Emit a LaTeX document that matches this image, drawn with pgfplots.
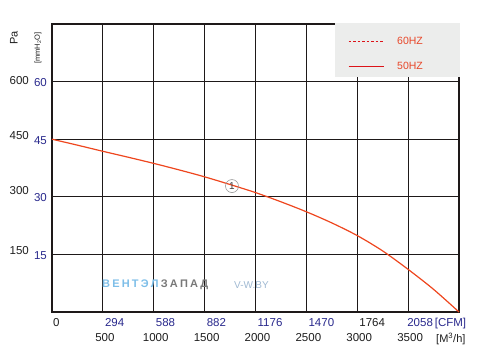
\documentclass[border=0pt]{standalone}
\usepackage{pgfplots}
\pgfplotsset{compat=1.18}
\usepackage{fontspec}
\setmainfont{Liberation Sans}
\definecolor{curvered}{RGB}{238,70,30}
\definecolor{tickblue}{RGB}{40,40,140}
\definecolor{leggray}{RGB}{236,237,236}
\definecolor{legred}{RGB}{232,70,40}
\definecolor{legline}{RGB}{220,20,25}
\definecolor{wmblue}{RGB}{125,190,232}
\definecolor{wmgray}{RGB}{120,120,120}
\definecolor{wmlight}{RGB}{160,185,210}
\definecolor{gridc}{RGB}{30,25,25}
\definecolor{labc}{RGB}{30,30,30}
\tikzset{cfm/.style={anchor=north west, inner sep=0pt, text=tickblue, font=\fontsize{11.5}{12}\selectfont},
         pal/.style={anchor=east, inner sep=0pt, text=labc, font=\fontsize{11.5}{12}\selectfont}}
\begin{document}
\begin{tikzpicture}
\useasboundingbox (-52pt,-37pt) rectangle (436pt,312pt);
\begin{axis}[
  at={(0pt,0pt)}, anchor=south west,
  scale only axis, width=407pt, height=288pt,
  xmin=0, xmax=4000, ymin=0, ymax=75,
  xtick={0,500,...,4000},
  xticklabels={,500,1000,1500,2000,2500,3000,3500,},
  ytick={0,15,...,75},
  yticklabels={,15,30,45,60,},
  grid=major,
  major grid style={gridc, line width=1.2pt},
  axis line style={gridc, line width=1.2pt},
  tick style={draw=none},
  tick label style={font=\fontsize{11.5}{12}\selectfont},
  xticklabel style={inner sep=0pt, anchor=north, yshift=-21pt, xshift=2pt, text=labc},
  yticklabel style={inner sep=0pt, anchor=east, xshift=-5pt, yshift=-1pt, text=tickblue},
  clip=false,
  legend style={at={(axis cs:2909,71.6)}, anchor=north west, draw=none, fill=none,
    inner sep=0pt, row sep=16pt, font=\fontsize{10.5}{12}\selectfont, text=legred,
    nodes={inner sep=0pt},
    /tikz/every odd column/.append style={column sep=13pt}},
  legend cell align=left,
  legend image code/.code={\draw[#1] (0pt,0pt) -- (35pt,0pt);},
]
\addplot[curvered, line width=1.2pt, smooth, forget plot] coordinates {
 (0,45.0) (250,43.45) (500,41.85) (750,40.3) (1000,38.7) (1250,37.0)
 (1500,35.2) (1750,33.2) (2000,31.1) (2250,28.7) (2500,26.1) (2750,23.2)
 (3000,19.9) (3250,15.9) (3500,11.1) (3750,5.9) (4000,0)};
\fill[leggray] (axis cs:2781,61.2) rectangle ([xshift=1.5pt,yshift=1.5pt]axis cs:4000,75);
\addlegendimage{legline, line width=1pt, dash pattern=on 2.5pt off 2pt}
\addlegendentry{60HZ}
\addlegendimage{legline, line width=1pt}
\addlegendentry{50HZ}
% secondary (CFM) tick labels
\node[cfm] at ([xshift=2pt,yshift=-6pt]axis cs:500,0) {294};
\node[cfm] at ([xshift=2pt,yshift=-6pt]axis cs:1000,0) {588};
\node[cfm] at ([xshift=2pt,yshift=-6pt]axis cs:1500,0) {882};
\node[cfm] at ([xshift=2pt,yshift=-6pt]axis cs:2000,0) {1176};
\node[cfm] at ([xshift=2pt,yshift=-6pt]axis cs:2500,0) {1470};
\node[cfm, text=labc] at ([xshift=2pt,yshift=-6pt]axis cs:3000,0) {1764};
\node[cfm, text=labc] at ([xshift=1pt,yshift=-6pt]axis cs:0,0) {0};
\node[cfm] at ([xshift=-1pt,yshift=-6pt]axis cs:3500,0) {2058\,[CFM]};
\node[anchor=north west, inner sep=0pt, text=labc, font=\fontsize{11}{12}\selectfont]
     at ([yshift=-21pt]axis cs:3774,0) {[M\textsuperscript{3}/h]};
% Pa labels
\node[pal] at ([xshift=-23pt]axis cs:0,60.4) {600};
\node[pal] at ([xshift=-23pt]axis cs:0,45.96) {450};
\node[pal] at ([xshift=-23pt]axis cs:0,31.7) {300};
\node[pal] at ([xshift=-23pt]axis cs:0,15.9) {150};
% curve id
\node[circle, draw=gray!80, line width=0.6pt, inner sep=0pt, minimum size=13pt,
      text=black!75, font=\fontsize{10}{10}\selectfont] at (axis cs:1769,32.8) {1};
% watermark
\node[anchor=west, inner sep=0pt, font=\bfseries\fontsize{11}{12}\selectfont] at (axis cs:491,7.03)
  {\color{wmblue}В\kern2.2pt Е\kern2.2pt Н\kern2.2pt Т\kern2.2pt Э\kern2.2pt Л\kern2.2pt\color{wmgray}З\kern2.2pt А\kern2.2pt П\kern2.2pt А\kern2.2pt Д};
\node[anchor=west, inner sep=0pt, text=wmlight, font=\fontsize{10}{12}\selectfont] at (axis cs:1789,7.03) {V-W.BY};
\end{axis}
\node[rotate=90, inner sep=0pt, text=labc, font=\fontsize{11}{12}\selectfont] at (-38pt,274pt) {Pa};
\node[rotate=90, inner sep=0pt, text=labc, font=\fontsize{7.5}{8}\selectfont] at (-14pt,264pt) {[mmH\textsubscript{2}O]};
\end{tikzpicture}
\end{document}
